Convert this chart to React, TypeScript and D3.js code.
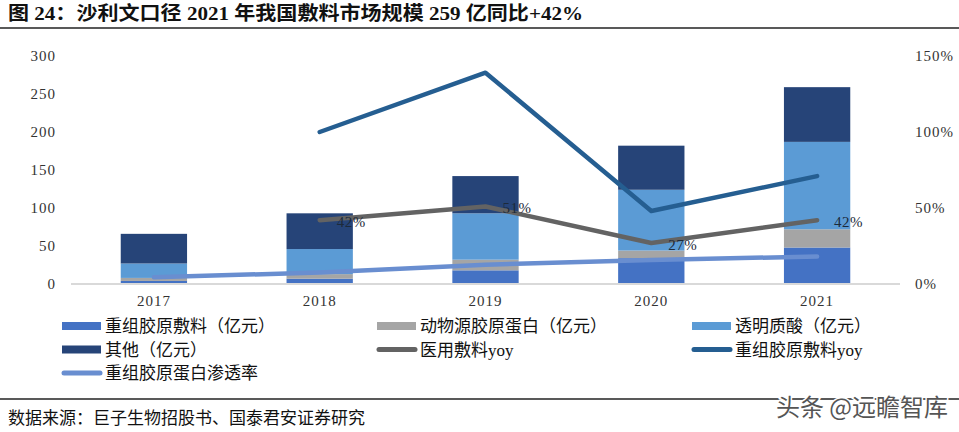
import React from 'react';
import * as d3 from 'd3';

const years = ['2017', '2018', '2019', '2020', '2021'];
const recombinant = [4, 7, 18, 34, 48];
const animal = [4, 6, 14, 10, 24];
const hyaluronic = [19, 33, 61, 80, 115];
const other = [39, 47, 49, 58, 72];
const medicalYoy: (number | null)[] = [null, 0.42, 0.51, 0.27, 0.42];
const recombYoy: (number | null)[] = [null, 1.0, 1.39, 0.48, 0.71];
const penetration = [0.045, 0.075, 0.127, 0.158, 0.181];
const medicalYoyLabels = ['', '42%', '51%', '27%', '42%'];
const leftTicks = [0, 50, 100, 150, 200, 250, 300];
const rightTicks = [0, 0.5, 1.0, 1.5];

const title = '图 24：沙利文口径 2021 年我国敷料市场规模 259 亿同比+42%';
const source = '数据来源：巨子生物招股书、国泰君安证券研究';

const barSeries = [
  { name: '重组胶原敷料（亿元）', values: recombinant, color: '#4472C4' },
  { name: '动物源胶原蛋白（亿元）', values: animal, color: '#A5A5A5' },
  { name: '透明质酸（亿元）', values: hyaluronic, color: '#5B9BD5' },
  { name: '其他（亿元）', values: other, color: '#264478' },
];
const lineSeries = [
  { name: '医用敷料yoy', values: medicalYoy, color: '#636363' },
  { name: '重组胶原敷料yoy', values: recombYoy, color: '#255E91' },
  { name: '重组胶原蛋白渗透率', values: penetration as (number | null)[], color: '#698ED0' },
];

const W = 959, H = 432;
const serif = '"Liberation Serif", "Times New Roman", serif';
const cjk = '"Liberation Serif", "Noto Sans CJK SC", serif';

export default function App() {
  const x = d3.scaleBand<string>().domain(years).range([71, 900]).paddingInner(0.6).paddingOuter(0.3);
  const yL = d3.scaleLinear().domain([0, 300]).range([284, 56]);
  const yR = d3.scaleLinear().domain([0, 1.5]).range([284, 56]);
  const cx = (y: string) => (x(y) as number) + x.bandwidth() / 2;

  const stackData = years.map((yr, i) => {
    const o: any = { year: yr };
    barSeries.forEach((s, k) => (o['s' + k] = s.values[i]));
    return o;
  });
  const stack = d3.stack<any>().keys(barSeries.map((_, k) => 's' + k))(stackData);

  const lineGen = d3
    .line<number | null>()
    .defined((d) => d != null)
    .x((_, i) => cx(years[i]))
    .y((d) => yR(d as number));

  // legend layout
  const legendItems = [
    { label: barSeries[0].name, color: barSeries[0].color, type: 'rect' },
    { label: barSeries[1].name, color: barSeries[1].color, type: 'rect' },
    { label: barSeries[2].name, color: barSeries[2].color, type: 'rect' },
    { label: barSeries[3].name, color: barSeries[3].color, type: 'rect' },
    { label: lineSeries[0].name, color: lineSeries[0].color, type: 'line' },
    { label: lineSeries[1].name, color: lineSeries[1].color, type: 'line' },
    { label: lineSeries[2].name, color: lineSeries[2].color, type: 'line' },
  ];
  const colX = [62, 377, 692];
  const rowY = [326, 349.5, 373];

  return (
    <svg width={W} height={H} style={{ position: 'absolute', left: 0, top: 0, background: '#fff' }}>
      <rect x={0} y={0} width={W} height={H} fill="#fff" />
      {/* title */}
      <text x={8} y={20} fontFamily={cjk} fontWeight="bold" fontSize={19} fill="#111" textLength={575} lengthAdjust="spacingAndGlyphs">
        {title}
      </text>
      <line x1={0} x2={W} y1={28} y2={28} stroke="#222" strokeWidth={1.3} />

      {/* bars */}
      {stack.map((layer, k) => (
        <g key={k}>
          {layer.map((d, i) => (
            <rect
              key={i}
              x={x(years[i])}
              width={x.bandwidth()}
              y={yL(d[1])}
              height={yL(d[0]) - yL(d[1])}
              fill={barSeries[k].color}
            />
          ))}
        </g>
      ))}

      {/* axis line */}
      <line x1={71} x2={900} y1={yL(0)} y2={yL(0)} stroke="#D9D9D9" strokeWidth={2} />

      {/* lines */}
      {lineSeries.map((s, k) => (
        <path key={k} d={lineGen(s.values) || ''} fill="none" stroke={s.color} strokeWidth={4.5} strokeLinecap="round" strokeLinejoin="round" />
      ))}

      {/* labels */}
      {medicalYoy.map((v, i) =>
        v == null ? null : (
          <text key={i} x={cx(years[i]) + 17} y={yR(v) + 7} fontFamily={serif} fontSize={15} fill="#1c2a3a" letterSpacing={0.5}>
            {medicalYoyLabels[i]}
          </text>
        )
      )}

      {/* left ticks */}
      {leftTicks.map((t) => (
        <text key={t} x={56} y={yL(t) + 5} textAnchor="end" fontFamily={serif} fontSize={15} fill="#333" letterSpacing={1}>
          {t}
        </text>
      ))}
      {/* right ticks */}
      {rightTicks.map((t) => (
        <text key={t} x={915} y={yR(t) + 5} textAnchor="start" fontFamily={serif} fontSize={15} fill="#333" letterSpacing={1}>
          {d3.format('.0%')(t)}
        </text>
      ))}
      {/* x labels */}
      {years.map((yr) => (
        <text key={yr} x={cx(yr)} y={306} textAnchor="middle" fontFamily={serif} fontSize={15} fill="#333" letterSpacing={1}>
          {yr}
        </text>
      ))}

      {/* legend */}
      {legendItems.map((it, i) => {
        const col = i % 3;
        const row = Math.floor(i / 3);
        const lx = colX[col];
        const ly = rowY[row];
        return (
          <g key={i}>
            {it.type === 'rect' ? (
              <rect x={lx} y={ly - 4} width={39} height={8} fill={it.color} />
            ) : (
              <line x1={lx + 2} x2={lx + 38} y1={ly} y2={ly} stroke={it.color} strokeWidth={5} strokeLinecap="round" />
            )}
            <text x={lx + 43} y={ly + 6} fontFamily={cjk} fontSize={17} fill="#111">
              {it.label}
            </text>
          </g>
        );
      })}

      {/* footer */}
      <line x1={0} x2={W} y1={399} y2={399} stroke="#222" strokeWidth={1.3} />
      <text x={8} y={424} fontFamily={cjk} fontSize={17} fill="#111">
        {source}
      </text>
      <text
        x={948}
        y={416}
        textAnchor="end"
        fontFamily='"Noto Sans CJK SC", sans-serif'
        fontSize={24}
        fill="#555"
        stroke="#fff"
        strokeWidth={3}
        paintOrder="stroke"
      >
        头条 @远瞻智库
      </text>
    </svg>
  );
}
